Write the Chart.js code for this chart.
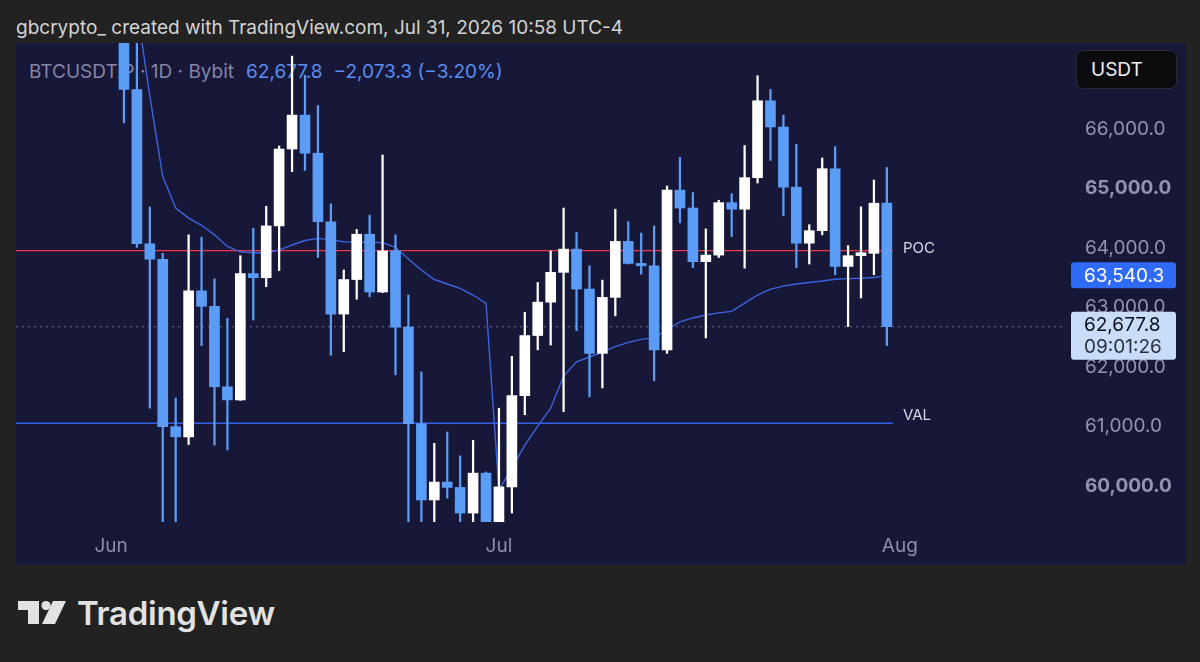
<!DOCTYPE html>
<html><head><meta charset="utf-8">
<script src="https://cdn.jsdelivr.net/npm/chart.js@4.4.1/dist/chart.umd.min.js"></script>
<style>
html,body{margin:0;padding:0;background:#222222;width:1200px;height:662px;overflow:hidden;font-family:Inter,"Liberation Sans",sans-serif;}
#hdr{position:absolute;left:16px;top:16px;font-size:19px;line-height:24px;color:#d4d4d4;white-space:nowrap;}
#pane{position:absolute;left:16px;top:43px;width:1170px;height:522px;background:#171738;}
#legend{position:absolute;left:29px;top:60px;font-size:19px;line-height:24px;white-space:nowrap;color:#8585a6}
#legend .v{color:#5b8ff0;margin-left:12px;}
#legend .c{color:#5b8ff0;margin-left:11px;}
#cv{position:absolute;left:16px;top:43px;}
#usdt{position:absolute;left:1076px;top:50px;width:99px;height:37px;background:#0b0b0e;border:1px solid #2b2b36;border-radius:7px;color:#f0f0f0;font-size:19px;line-height:37px;}
#usdt span{margin-left:14px;}
#logo{position:absolute;left:18px;top:596px;height:36px;}
#logo svg{position:absolute;left:0;top:5px;}
#logo .t{position:absolute;left:59px;top:-3px;font-size:33px;font-weight:600;color:#e2e2e2;letter-spacing:-0.3px;white-space:nowrap;}
</style></head>
<body>
<div id="hdr">gbcrypto_ created with TradingView.com, Jul 31, 2026 10:58 UTC-4</div>
<div id="pane"></div>
<div id="legend"><span class="n">BTCUSDT.P · 1D · Bybit</span><span class="v">62,677.8</span><span class="c">−2,073.3 (−3.20%)</span></div>
<canvas id="cv" width="1170" height="522"></canvas>
<div id="usdt"><span>USDT</span></div>
<div id="logo">
<svg width="50" height="26" viewBox="0 0 50 26">
<path d="M0 0 H21 V23 H10 V9 H0 Z" fill="#e2e2e2"/>
<circle cx="28" cy="4.6" r="4.6" fill="#e2e2e2"/>
<path d="M35 0 H48 L37 23 H24 Z" fill="#e2e2e2"/>
</svg>
<div class="t">TradingView</div>
</div>
<script>
const dates = ["2026-06-02","2026-06-03","2026-06-04","2026-06-05","2026-06-06","2026-06-07","2026-06-08","2026-06-09","2026-06-10","2026-06-11",
"2026-06-12","2026-06-13","2026-06-14","2026-06-15","2026-06-16","2026-06-17","2026-06-18","2026-06-19","2026-06-20","2026-06-21",
"2026-06-22","2026-06-23","2026-06-24","2026-06-25","2026-06-26","2026-06-27","2026-06-28","2026-06-29","2026-06-30","2026-07-01",
"2026-07-02","2026-07-03","2026-07-04","2026-07-05","2026-07-06","2026-07-07","2026-07-08","2026-07-09","2026-07-10","2026-07-11",
"2026-07-12","2026-07-13","2026-07-14","2026-07-15","2026-07-16","2026-07-17","2026-07-18","2026-07-19","2026-07-20","2026-07-21",
"2026-07-22","2026-07-23","2026-07-24","2026-07-25","2026-07-26","2026-07-27","2026-07-28","2026-07-29","2026-07-30","2026-07-31"];
const opens = [68200,66660,64070,63810,61000,60830,63280,63020,61670,61450,
63570,63500,64370,65660,66230,65590,64440,62890,63470,64230,
63260,63950,62670,61050,59770,60070,59980,59550,60220,59350,
59990,61520,62530,63090,63590,63980,63310,62230,63170,64110,
63740,63700,62290,64970,64670,63770,63880,64760,64650,65180,
66470,66030,65020,64080,64290,65330,63690,63870,63910,64751.1];
const highs = [68600,67900,64690,63910,61480,64220,64180,63480,62820,63870,
64330,64700,65710,67220,66900,66390,64740,63630,64310,64550,
65560,64220,63210,61920,60720,60910,60510,60770,60240,61310,
62180,62920,63420,63950,64670,64260,63700,63460,64650,64440,
64250,64370,65040,65520,64930,64320,64800,64910,65720,66890,
66660,66230,65740,64390,65510,65700,64040,64690,65140,65350];
const lows = [66100,64010,61310,59250,59250,60700,62360,60690,60610,61440,
62790,63350,63620,65280,65300,63840,62200,62260,63140,63180,
63250,61870,59250,59250,59250,59800,59250,59250,59200,59200,
59550,61200,62290,62370,61250,62610,61500,61650,62860,63730,
63560,61770,62230,64420,63670,62490,63840,64190,63660,65090,
65470,64540,63670,63730,64220,63550,62680,63160,63550,62360];
const closes = [66660,64070,63810,61000,60830,63280,63020,61670,61450,63570,
63500,64370,65660,66230,65590,64440,62890,63470,64230,63260,
63950,62670,61050,59770,60070,59980,59550,60220,59350,59990,
61520,62530,63090,63590,63980,63310,62230,63170,64110,63740,
63700,62290,64970,64670,63770,63880,64760,64650,65180,66470,
66030,65020,64080,64290,65330,63690,63870,63920,64751.1,62677.8];
const vwap = [68700,68030,66550,65200,64670,64500,64380,64220,64025,63935,
63920,63920,63965,64050,64125,64160,64135,64105,64100,64095,
64090,64010,63815,63630,63470,63395,63320,63210,63070,59940,
60300,60690,61010,61310,61850,62090,62170,62250,62345,62415,
62465,62490,62625,62760,62825,62875,62910,62935,63075,63210,
63310,63360,63395,63420,63445,63475,63485,63492,63505,63540.3];
const priceTicks = [60000,61000,62000,63000,64000,65000,66000];
const monthStarts = ["2026-06-01","2026-07-01","2026-08-01"];
const monthLabels = ["Jun","Jul","Aug"];
const POC = 63955, VAL = 61058, LAST = 62677.8, VWAP_LAST = 63540.3, COUNTDOWN = "09:01:26";
const levelEnd = "2026-07-31";

const base = Date.parse("2026-06-01T00:00:00Z");
const dayIdx = s => (Date.parse(s + "T00:00:00Z") - base) / 864e5;
const X_MIN = -7.35, X_MAX = 73.7;
const BULL = "#ffffff", BEAR = "#5b9cf6";
const colors = dates.map((d, i) => closes[i] >= opens[i] ? BULL : BEAR);
const levelX = dayIdx(levelEnd) + 0.47;
const fmt = v => v.toLocaleString("en-US", {minimumFractionDigits: 1, maximumFractionDigits: 1});
const FONT = "Inter, 'Liberation Sans', sans-serif";

const overlay = {
  id: "overlay",
  afterDraw(chart) {
    const {ctx, scales: {x, y}} = chart;
    ctx.save();
    ctx.font = "15px " + FONT;
    ctx.fillStyle = "#d6d7e4";
    ctx.textBaseline = "middle";
    ctx.textAlign = "left";
    const lx = x.getPixelForValue(levelX) + 10;
    ctx.fillText("POC", lx, y.getPixelForValue(POC) - 2);
    ctx.fillText("VAL", lx, y.getPixelForValue(VAL) - 8);
    const bx = 1055, bw = 105;
    let yy = y.getPixelForValue(VWAP_LAST);
    ctx.fillStyle = "#2f6bf6";
    ctx.beginPath(); ctx.roundRect(bx, yy - 13, bw, 26, 3); ctx.fill();
    ctx.fillStyle = "#ffffff"; ctx.font = "19px " + FONT;
    ctx.fillText(fmt(VWAP_LAST), bx + 13, yy + 1);
    yy = y.getPixelForValue(LAST);
    ctx.fillStyle = "#c9ddf8";
    ctx.beginPath(); ctx.roundRect(bx, yy - 15, bw, 48, 3); ctx.fill();
    ctx.fillStyle = "#0c0f1c";
    ctx.fillText(fmt(LAST), bx + 13, yy - 1);
    ctx.fillStyle = "#2b3040";
    ctx.fillText(COUNTDOWN, bx + 13, yy + 21);
    ctx.restore();
  }
};

const noPad = s => { s.paddingTop = 0; s.paddingBottom = 0; s.paddingLeft = 0; s.paddingRight = 0; };

new Chart(document.getElementById("cv"), {
  type: "bar",
  data: {
    datasets: [
      {
        type: "bar", label: "bodies", order: 0, grouped: false,
        data: dates.map((d, i) => ({x: dayIdx(d), y: [opens[i], closes[i]]})),
        backgroundColor: colors, barThickness: 10, minBarLength: 2, borderWidth: 0
      },
      {
        type: "bar", label: "wicks", order: 1, grouped: false,
        data: dates.map((d, i) => ({x: dayIdx(d), y: [lows[i], highs[i]]})),
        backgroundColor: colors, barThickness: 1.6, borderWidth: 0
      },
      {
        type: "line", label: "VWAP", order: 2,
        data: dates.map((d, i) => ({x: dayIdx(d), y: vwap[i]})),
        borderColor: "#3c64e0", borderWidth: 1.4, pointRadius: 0, tension: 0
      },
      {
        type: "line", label: "POC", order: 3,
        data: [{x: X_MIN, y: POC}, {x: levelX, y: POC}],
        borderColor: "#ea3646", borderWidth: 1.4, pointRadius: 0
      },
      {
        type: "line", label: "VAL", order: 3,
        data: [{x: X_MIN, y: VAL}, {x: levelX, y: VAL}],
        borderColor: "#3461e6", borderWidth: 1.4, pointRadius: 0
      },
      {
        type: "line", label: "last", order: 4,
        data: [{x: X_MIN, y: LAST}, {x: X_MAX, y: LAST}],
        borderColor: "#6e7088", borderWidth: 1, borderDash: [2, 4], pointRadius: 0
      }
    ]
  },
  options: {
    responsive: false, animation: false, devicePixelRatio: 1,
    layout: {padding: 0},
    plugins: {legend: {display: false}, tooltip: {enabled: false}},
    scales: {
      x: {
        type: "linear", min: X_MIN, max: X_MAX, offset: false,
        grid: {display: false, drawTicks: false}, border: {display: false},
        afterBuildTicks: s => { s.ticks = monthStarts.map(d => ({value: dayIdx(d)})); },
        afterFit: s => { s.height = 43; noPad(s); },
        ticks: {
          autoSkip: false, maxRotation: 0, padding: 13, color: "#8d8dac",
          font: {family: FONT, size: 19},
          callback: v => monthLabels[monthStarts.map(dayIdx).indexOf(v)]
        }
      },
      y: {
        type: "linear", position: "right", min: 59400, max: 67440,
        grid: {display: false, drawTicks: false}, border: {display: false},
        afterBuildTicks: s => { s.ticks = priceTicks.map(v => ({value: v})); },
        afterFit: s => { s.width = 122; noPad(s); },
        ticks: {
          padding: 21, color: "#9394b0",
          font: c => ({family: FONT, size: 19, weight: (c.tick && c.tick.value % 5000 === 0) ? "bold" : "normal"}),
          callback: v => fmt(v)
        }
      }
    }
  },
  plugins: [overlay]
});
</script>
</body></html>
